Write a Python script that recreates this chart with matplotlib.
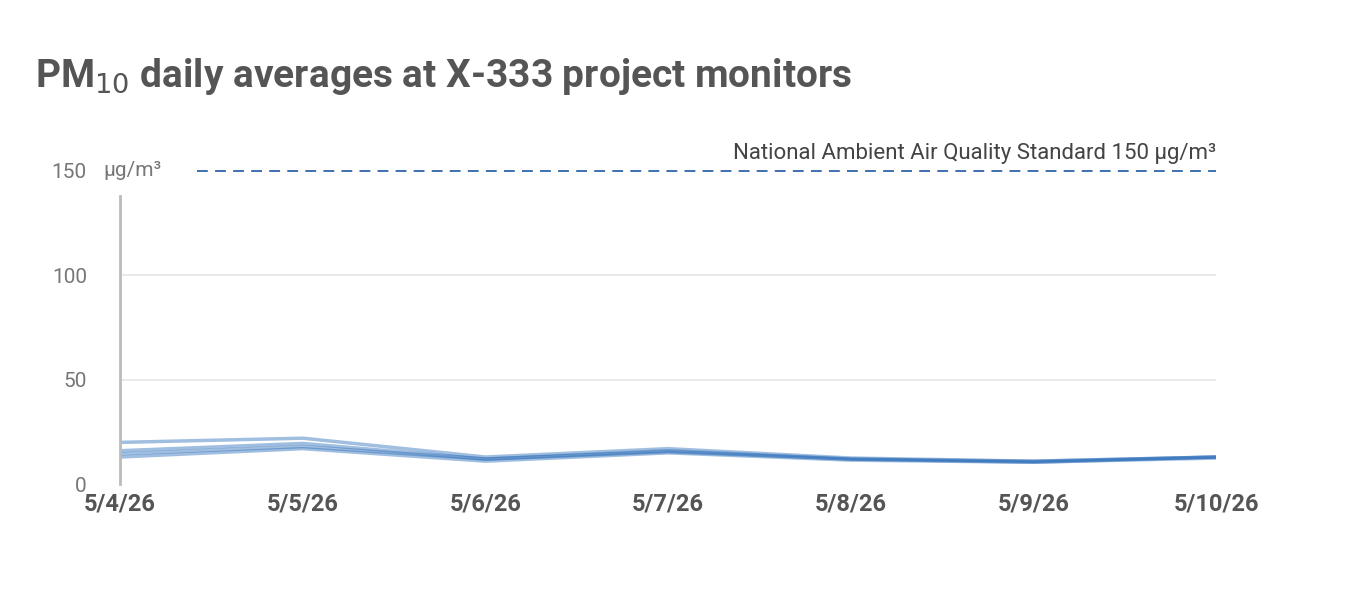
import matplotlib.pyplot as plt

dates = ['5/4/26', '5/5/26', '5/6/26', '5/7/26', '5/8/26', '5/9/26', '5/10/26']
monitor_a = [20, 22, 13, 17, 12.5, 11, 13]
monitor_b = [16, 19.5, 12, 16, 12, 11, 13]
monitor_c = [14.5, 18, 12, 15.5, 12, 10.5, 13]
monitor_d = [13, 17, 11, 15, 11.5, 10.5, 12.5]
standard = 150

plt.rcParams['font.family'] = ['Roboto', 'DejaVu Sans']

fig = plt.figure(figsize=(13.5, 5.97), dpi=100)
ax = fig.add_axes([0.089, 0.189, 0.812, 0.525])
x = range(len(dates))
for s in [monitor_a, monitor_b, monitor_c, monitor_d]:
    ax.plot(x, s, color='#2e6fba', lw=2.5, alpha=0.45, solid_capstyle='round')

ax.set_xlim(0, len(dates) - 1)
ax.set_ylim(0, 150)
ax.axhline(standard, xmin=0.07, color='#2f64a8', lw=1.3, ls=(0, (6, 4)), clip_on=False)
ax.text(len(dates) - 1, standard + 3, 'National Ambient Air Quality Standard 150 µg/m³',
        ha='right', va='bottom', fontsize=16, color='#444444')
for v in [50, 100]:
    ax.axhline(v, color='#e6e6e6', lw=1.2, zorder=0)

ax.set_yticks([0, 50, 100, 150])
ax.set_yticklabels(['0', '50', '100', '150'], fontsize=15, color='#777777')
ax.tick_params(axis='y', length=0, pad=24)
fig.text(103 / 1350, 1 - 171 / 597, 'µg/m³', fontsize=15, color='#777777', va='center')
ax.set_xticks(list(x))
ax.set_xticklabels(dates, fontsize=17, fontweight='bold', color='#555555')
ax.tick_params(axis='x', length=0, pad=6)
for sp in ['top', 'right', 'bottom']:
    ax.spines[sp].set_visible(False)
ax.spines['left'].set_color('#bbbbbb')
ax.spines['left'].set_linewidth(2)
ax.spines['left'].set_bounds(0, 138)

fig.text(0.026, 0.855, r'PM$_{10}$ daily averages at X-333 project monitors', fontsize=28,
         fontweight='bold', color='#555555')
fig.savefig('out.png')
